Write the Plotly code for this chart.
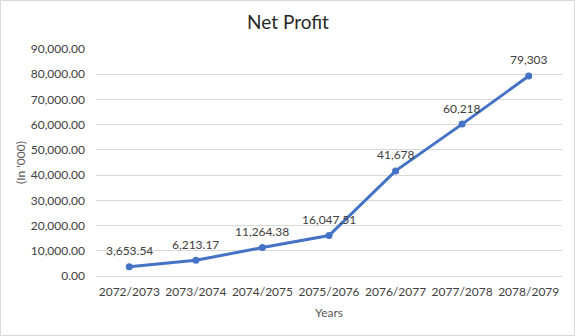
import plotly.graph_objects as go

years = ["2072/2073", "2073/2074", "2074/2075", "2075/2076", "2076/2077", "2077/2078", "2078/2079"]
net_profit = [3653.54, 6213.17, 11264.38, 16047.51, 41678, 60218, 79303]
label_decimals = [2, 2, 2, 2, 0, 0, 0]
y_ticks = list(range(0, 90001, 10000))

labels = [f"{v:,.{d}f}" for v, d in zip(net_profit, label_decimals)]

W, H = 576, 336
ml, mr, mt, mb = 96, 14, 49, 60
pw, ph = W - ml - mr, H - mt - mb

font_family = "Lato, 'Noto Sans', sans-serif"

fig = go.Figure(
    go.Scatter(
        x=years,
        y=net_profit,
        mode="lines+markers",
        line=dict(color="#4472C4", width=3),
        marker=dict(color="#4472C4", size=7),
        cliponaxis=False,
        hoverinfo="x+y",
    )
)

# value labels sitting above each point
for yr, v, txt in zip(years, net_profit, labels):
    fig.add_annotation(
        x=yr,
        y=v,
        text=txt,
        showarrow=False,
        yshift=16,
        yanchor="middle",
        font=dict(size=12, color="#404040", family=font_family),
    )

fig.update_layout(
    width=W,
    height=H,
    margin=dict(l=ml, r=mr, t=mt, b=mb),
    paper_bgcolor="white",
    plot_bgcolor="white",
    showlegend=False,
    title=dict(
        text="Net Profit",
        x=0.5,
        xanchor="center",
        y=1 - 22 / H,
        yanchor="middle",
        font=dict(size=19, color="#262626", family=font_family),
    ),
    font=dict(family=font_family, color="#595959"),
    xaxis=dict(
        type="category",
        title=dict(text="Years", font=dict(size=12, color="#595959"), standoff=10),
        tickfont=dict(size=12, color="#404040"),
        showgrid=False,
        showline=True,
        linecolor="#D9D9D9",
        linewidth=1,
        ticks="",
        ticklabelstandoff=5,
        range=[-0.5, len(years) - 0.5],
    ),
    yaxis=dict(
        title=dict(text="(In '000)", font=dict(size=12, color="#595959"), standoff=2),
        tickvals=y_ticks,
        ticktext=[f"{v:,.2f}" for v in y_ticks],
        tickfont=dict(size=12, color="#404040"),
        range=[0, 90000],
        showgrid=True,
        gridcolor="#D9D9D9",
        gridwidth=1,
        zeroline=False,
        showline=False,
        ticks="",
        ticklabelstandoff=10,
    ),
    shapes=[
        dict(
            type="rect",
            xref="paper",
            yref="paper",
            x0=(0.5 - ml) / pw,
            x1=(W - 1.5 - ml) / pw,
            y0=-(mb - 0.5) / ph,
            y1=1 + (mt - 0.5) / ph,
            line=dict(color="#D9D9D9", width=1),
            fillcolor="rgba(0,0,0,0)",
            layer="below",
        )
    ],
)

fig.write_html("out.html")
